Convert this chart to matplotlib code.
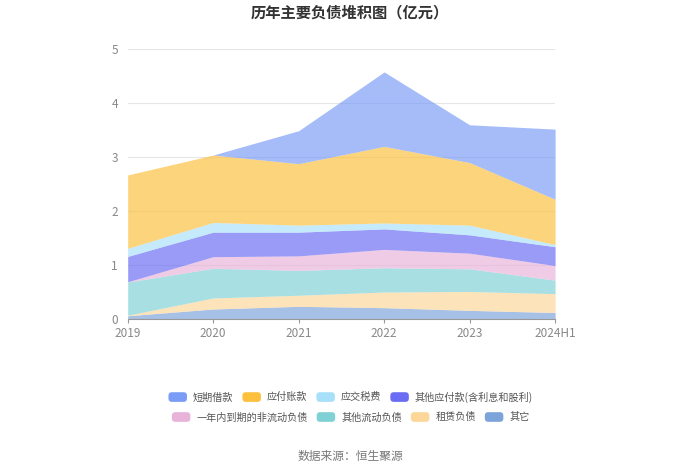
import matplotlib
matplotlib.use("Agg")
import matplotlib.pyplot as plt
import numpy as np
import matplotlib.patches as mpatches
from matplotlib.legend_handler import HandlerPatch

plt.rcParams['font.family'] = ['Noto Sans CJK SC', 'DejaVu Sans']

years = ["2019", "2020", "2021", "2022", "2023", "2024H1"]
series_names = ["短期借款", "应付账款", "应交税费", "其他应付款(含利息和股利)",
                "一年内到期的非流动负债", "其他流动负债", "租赁负债", "其它"]
short_loan = [0.0, 0.0, 0.61, 1.38, 0.70, 1.30]
accounts_payable = [1.36, 1.25, 1.14, 1.42, 1.16, 0.84]
tax_payable = [0.15, 0.18, 0.13, 0.11, 0.18, 0.04]
other_payable = [0.47, 0.455, 0.44, 0.38, 0.34, 0.35]
current_noncurrent = [0.005, 0.215, 0.27, 0.34, 0.29, 0.27]
other_current = [0.615, 0.55, 0.46, 0.45, 0.42, 0.25]
lease = [0.01, 0.205, 0.205, 0.29, 0.35, 0.35]
others = [0.06, 0.185, 0.235, 0.21, 0.16, 0.12]

colors = ["#7a9cf7", "#fcc03d", "#a8e0fa", "#6a6cf3",
          "#e8b3d9", "#7fd1d6", "#fdd69a", "#7da3db"]

fig = plt.figure(figsize=(7, 4.73), dpi=100)
ax = fig.add_axes([0.1824, 0.3256, 0.6106, 0.5702])

x = np.arange(len(years))
stack_order = [others, lease, other_current, current_noncurrent,
               other_payable, tax_payable, accounts_payable, short_loan]
stack_colors = colors[::-1]
base = np.zeros(len(years))
for vals, c in zip(stack_order, stack_colors):
    top = base + np.array(vals)
    ax.fill_between(x, base, top, color=c, alpha=0.68, linewidth=0)
    base = top

ax.set_xlim(0, len(years) - 1)
ax.set_ylim(0, 5)
ax.set_yticks([0, 1, 2, 3, 4, 5])
ax.set_xticks(x)
ax.set_xticklabels(years)
ax.tick_params(axis='y', length=0, labelcolor='#888888', labelsize=8.5, pad=7)
ax.tick_params(axis='x', length=3, color='#999999', labelcolor='#888888', labelsize=8.5, pad=2.5)
ax.grid(axis='y', color='#e6e6e6', linewidth=0.8)
ax.set_axisbelow(True)
for s in ['top', 'right', 'left']:
    ax.spines[s].set_visible(False)
ax.spines['bottom'].set_color('#999999')


class RoundHandler(HandlerPatch):
    def create_artists(self, legend, orig_handle, xdescent, ydescent,
                       width, height, fontsize, trans):
        p = mpatches.FancyBboxPatch((-xdescent + 1, -ydescent + 0.5), width - 2, height - 1,
                                    boxstyle=mpatches.BoxStyle("Round", pad=0, rounding_size=2.5),
                                    facecolor=orig_handle.get_facecolor(),
                                    edgecolor='none', transform=trans)
        return [p]


def make_legend(idx, ypos):
    hs = [mpatches.Patch(facecolor=colors[i], edgecolor='none') for i in idx]
    labs = [series_names[i] for i in idx]
    lg = fig.legend(hs, labs, ncol=4, loc='center', bbox_to_anchor=(0.5, ypos),
                    frameon=False, fontsize=7.3, labelcolor='#555555',
                    handlelength=2.1, handleheight=1.3, columnspacing=0.75,
                    handletextpad=0.45, borderpad=0,
                    handler_map={mpatches.Patch: RoundHandler()})
    return lg


make_legend([0, 1, 2, 3], 1 - 397 / 473)
make_legend([4, 5, 6, 7], 1 - 417 / 473)

fig.text(0.5, 0.973, "历年主要负债堆积图（亿元）", ha='center', va='center',
         fontsize=11, fontweight='bold', color='#333333')
fig.text(0.5, 0.034, "数据来源：恒生聚源", ha='center', va='center',
         fontsize=8.5, color='#777777')

fig.savefig("out.png", dpi=100)
